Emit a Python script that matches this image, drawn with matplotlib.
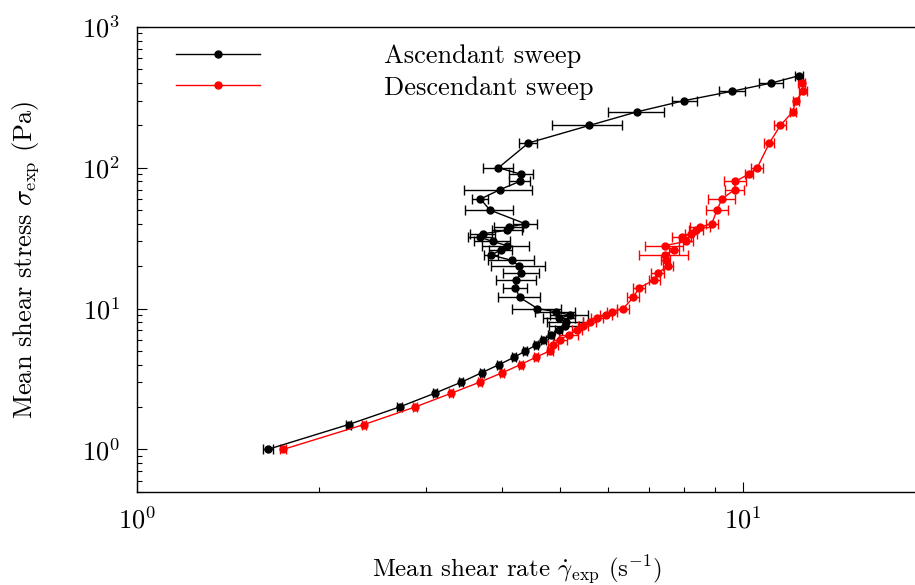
import matplotlib
matplotlib.use("Agg")
import matplotlib.pyplot as plt
import numpy as np

plt.rcParams["font.family"] = "serif"
plt.rcParams["font.serif"] = ["cmr10", "DejaVu Serif"]
plt.rcParams["mathtext.fontset"] = "cm"
plt.rcParams["axes.formatter.use_mathtext"] = True
plt.rcParams["axes.unicode_minus"] = False
plt.rcParams["font.size"] = 19

# Ascendant sweep: stress (Pa), mean shear rate (1/s), rate error
asc_stress = [1, 1.5, 2, 2.5, 3, 3.5, 4, 4.5, 5, 5.5, 6, 6.5, 7, 7.5, 8, 8.5, 9, 9.5, 10,
              12, 14, 16, 18, 20, 22, 24, 26, 28, 30, 32, 34, 36, 38, 40,
              50, 60, 70, 80, 90, 100, 150, 200, 250, 300, 350, 400, 450]
asc_rate = [1.646, 2.235, 2.714, 3.100, 3.432, 3.708, 3.962, 4.192, 4.378, 4.56, 4.684,
            4.834, 4.965, 5.086, 5.105, 4.983, 5.182, 4.909, 4.583,
            4.285, 4.215, 4.232, 4.313, 4.275, 4.156, 3.842, 3.985, 4.077, 3.866, 3.69,
            3.722, 4.089, 4.115, 4.378,
            3.828, 3.69, 3.977, 4.285, 4.307, 3.951, 4.429, 5.586, 6.698, 8.012, 9.616,
            11.15, 12.37]
asc_err = [0.03, 0.025, 0.026, 0.024, 0.026, 0.028, 0.03, 0.03, 0.033, 0.04, 0.045,
           0.055, 0.06, 0.29, 0.35, 0.30, 0.37, 0.37, 0.42,
           0.34, 0.19, 0.32, 0.30, 0.44, 0.36, 0.10, 0.17, 0.36, 0.26, 0.17,
           0.18, 0.23, 0.23, 0.20,
           0.35, 0.11, 0.51, 0.17, 0.20, 0.23, 0.15, 0.74, 0.71, 0.38, 0.48,
           0.49, 0.19]

# Descendant sweep
desc_stress = [400, 350, 300, 250, 200, 150, 100, 90, 80, 70, 60, 50, 40, 38, 36, 34, 32,
               30, 28, 26, 24, 22, 20, 18, 16, 14, 12, 10, 9.5, 9, 8.5, 8, 7.5, 7, 6.5,
               6, 5.5, 5, 4.5, 4, 3.5, 3, 2.5, 2, 1.5, 1]
desc_rate = [12.52, 12.6, 12.24, 12.1, 11.54, 11.07, 10.57, 10.23, 9.72, 9.70, 9.24, 9.07,
             8.89, 8.50, 8.37, 8.21, 7.93, 8.07, 7.43, 7.70, 7.43, 7.46, 7.54, 7.24, 7.15,
             6.74, 6.60, 6.35, 6.08, 5.95, 5.75, 5.59, 5.45, 5.32, 5.16, 4.99, 4.86, 4.80,
             4.55, 4.30, 4.01, 3.68, 3.30, 2.88, 2.37, 1.745]
desc_err = [0.17, 0.19, 0.14, 0.14, 0.26, 0.21, 0.24, 0.16, 0.41, 0.35, 0.47, 0.38,
            0.20, 0.32, 0.22, 0.19, 0.30, 0.21, 0.54, 0.15, 0.68, 0.14, 0.14, 0.17, 0.14,
            0.15, 0.15, 0.14, 0.12, 0.14, 0.13, 0.13, 0.10, 0.10, 0.18, 0.13, 0.09, 0.055,
            0.035, 0.03, 0.03, 0.025, 0.025, 0.02, 0.02, 0.02]

fig = plt.figure(figsize=(9.15, 5.85), dpi=100)
ax = fig.add_axes([137 / 915, 93.3 / 585, 788 / 915, 464.7 / 585])

asc = ax.errorbar(asc_rate, asc_stress, xerr=asc_err, color="black", marker="o", ms=5,
                  lw=1.0, elinewidth=1.0, capsize=3.5)
desc = ax.errorbar(desc_rate, desc_stress, xerr=desc_err, color="red", marker="o", ms=5,
                   lw=1.0, elinewidth=1.0, capsize=3.5)

ax.set_xscale("log")
ax.set_yscale("log")
ax.set_xlim(1, 20)
ax.set_ylim(0.5, 1000)

ax.spines["right"].set_visible(False)
for s in ["top", "left", "bottom"]:
    ax.spines[s].set_linewidth(1.0)
ax.tick_params(which="both", direction="in", top=False, right=False, width=0.8)
ax.tick_params(which="major", length=7.5)
ax.tick_params(which="minor", length=3.6)
ax.tick_params(axis="x", which="major", pad=11)
ax.tick_params(axis="y", which="major", pad=12)

ax.set_xlabel(r"Mean shear rate $\dot{\gamma}_\mathrm{exp}$ (s$^{-1}$)", fontsize=18)
ax.set_ylabel(r"Mean shear stress $\sigma_\mathrm{exp}$ (Pa)")
ax.xaxis.set_label_coords((517 - 137) / 788, (491.7 - 554) / 464.7)
ax.yaxis.set_label_coords((41 - 137) / 788, 0.5)

ax.legend([asc[0], desc[0]], ["Ascendant sweep", "Descendant sweep"],
          loc="upper left", bbox_to_anchor=(0.0495, 0.963), frameon=False,
          borderpad=0, borderaxespad=0, handlelength=3.2, handletextpad=4.7,
          labelspacing=0.3)

fig.savefig("out.png", dpi=100)
